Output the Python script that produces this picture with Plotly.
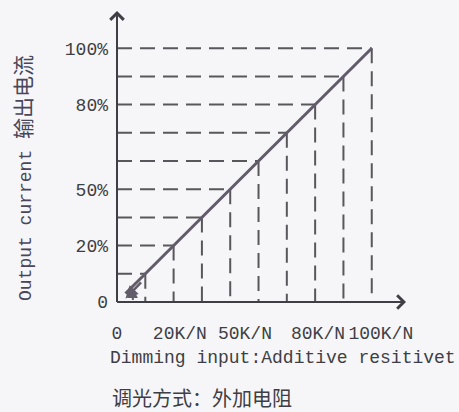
import plotly.graph_objects as go

# ---- data ----
grid_levels = [1, 2, 3, 4, 5, 6, 7, 8, 9]          # staircase corners (x = y = level)
line_x = [0.3, 9]                                  # output current line ends
line_y = [0.3, 9]
y_tick_vals = [0, 2, 4, 7, 9]
y_tick_text = ["0", "20%", "50%", "80%", "100%"]
x_tick_vals = [0, 2.22, 4.52, 7.1, 9.32]
x_tick_text = ["0", "20K/N", "50K/N", "80K/N", "100K/N"]

X_MAX = 10.21
Y_MAX = 10.32
BG = "#f6f6f8"
INK = "#3e3e44"
LINE = "#625c6a"
MONO = "Liberation Mono, DejaVu Sans Mono, Noto Sans CJK SC, monospace"

W, H = 459, 412
ML, MR, MT, MB = 117, 53, 11, 110
PW, PH = W - ML - MR, H - MT - MB

def px(x):
    return (x - ML) / PW

def py(y):
    return (H - MB - y) / PH

# dashed staircase
dx, dy = [], []
for v in grid_levels:
    dx += [0, v, None, v, v, None]
    dy += [v, v, None, v, 0, None]

fig = go.Figure()
fig.add_trace(go.Scatter(x=dx, y=dy, mode="lines",
                         line=dict(color="#58585c", width=2, dash="15px,8px"),
                         hoverinfo="skip", showlegend=False))
fig.add_trace(go.Scatter(x=line_x, y=line_y, mode="lines",
                         line=dict(color=LINE, width=3),
                         hoverinfo="skip", showlegend=False))

ann = []
# axes with arrows
ann.append(dict(x=X_MAX, y=0, ax=-0.05, ay=0, xref="x", yref="y", axref="x", ayref="y",
                showarrow=True, arrowhead=4, arrowsize=1.3, arrowwidth=2, arrowcolor=INK, text=""))
ann.append(dict(x=0, y=Y_MAX, ax=0, ay=-0.05, xref="x", yref="y", axref="x", ayref="y",
                showarrow=True, arrowhead=4, arrowsize=1.3, arrowwidth=2, arrowcolor=INK, text=""))
# small arrows near origin
ann.append(dict(x=0.56, y=0.5, ax=0.56, ay=0.02, xref="x", yref="y", axref="x", ayref="y",
                showarrow=True, arrowhead=2, arrowsize=1, arrowwidth=2, arrowcolor=LINE, text=""))
ann.append(dict(x=0.3, y=0.12, ax=0.9, ay=0.75, xref="x", yref="y", axref="x", ayref="y",
                showarrow=True, arrowhead=2, arrowsize=1, arrowwidth=2.5, arrowcolor=LINE, text=""))
# titles
ann.append(dict(x=px(283), y=py(358), xref="paper", yref="paper",
                xanchor="center", yanchor="middle",
                text="Dimming input:Additive resitivet",
                showarrow=False, font=dict(family=MONO, size=18, color=INK)))
ann.append(dict(x=px(110), y=py(397), xref="paper", yref="paper", text="调光方式：外加电阻",
                showarrow=False, xanchor="left", yanchor="middle",
                font=dict(family="Noto Sans CJK SC", size=20, color=INK)))
ann.append(dict(x=px(25), y=py(178), xref="paper", yref="paper",
                text="Output current <span style='font-size:21px'>输出电流</span>",
                showarrow=False, textangle=-90, xanchor="center", yanchor="middle",
                font=dict(family=MONO, size=18, color="#4a4658")))

fig.update_layout(
    width=W, height=H,
    margin=dict(l=ML, r=MR, t=MT, b=MB),
    paper_bgcolor=BG, plot_bgcolor=BG,
    annotations=ann,
    xaxis=dict(range=[0, X_MAX], showgrid=False, zeroline=False, showline=False,
               tickvals=x_tick_vals, ticktext=x_tick_text, ticks="",
               ticklabelstandoff=18,
               tickfont=dict(family=MONO, size=18, color=INK)),
    yaxis=dict(range=[0, Y_MAX], showgrid=False, zeroline=False, showline=False,
               tickvals=y_tick_vals, ticktext=y_tick_text, ticks="",
               ticklabelstandoff=8,
               tickfont=dict(family=MONO, size=18, color=INK)),
    showlegend=False,
)

fig.write_html("out.html", config={"displayModeBar": False},
               post_script="document.body.style.margin='0';document.body.style.background='%s';" % BG)
